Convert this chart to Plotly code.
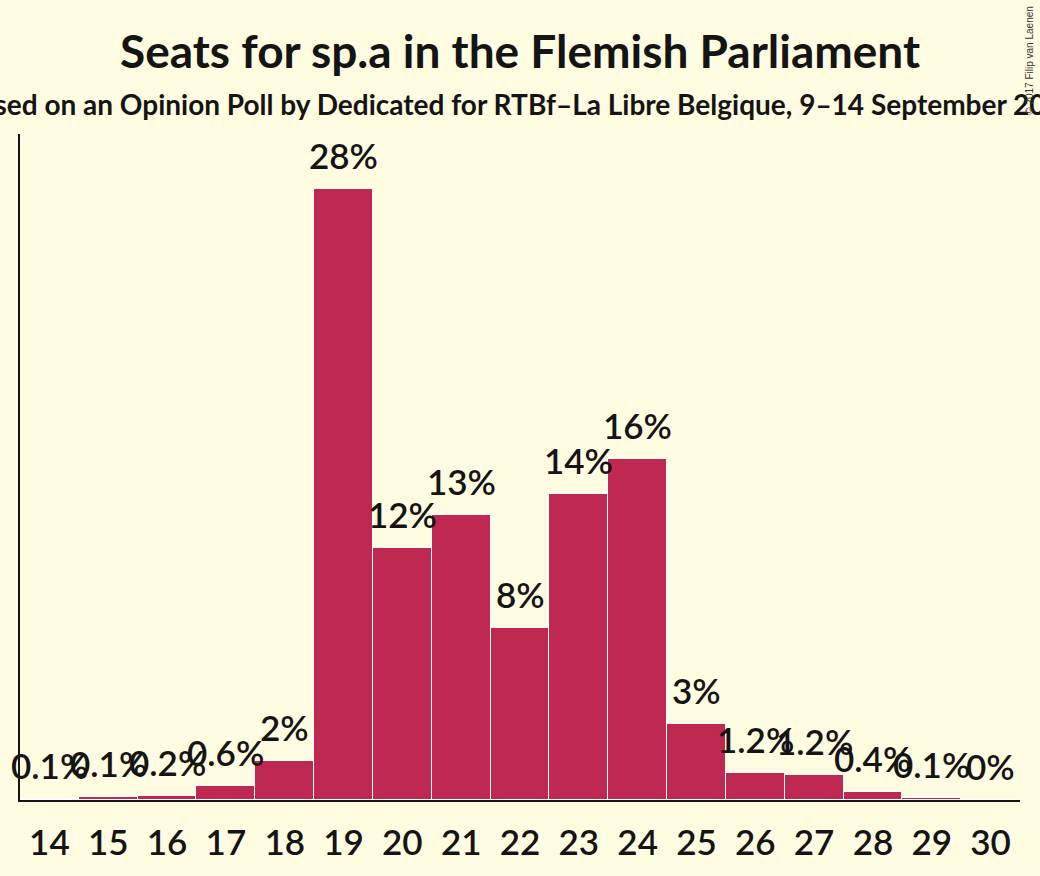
"""Seats for sp.a in the Flemish Parliament - seat probability bar chart"""

import plotly.graph_objects as go

# seat counts and the probability (%) of each
seats = [14, 15, 16, 17, 18, 19, 20, 21, 22, 23, 24, 25, 26, 27, 28, 29, 30]
probability = [0.05, 0.14, 0.2, 0.64, 1.8, 28.0, 11.55, 13.06, 7.88, 14.0,
               15.6, 3.5, 1.24, 1.15, 0.37, 0.1, 0.0]
labels = ["0.1%", "0.1%", "0.2%", "0.6%", "2%", "28%", "12%", "13%", "8%",
          "14%", "16%", "3%", "1.2%", "1.2%", "0.4%", "0.1%", "0%"]

title = "Seats for sp.a in the Flemish Parliament"
subtitle = ("Based on an Opinion Poll by Dedicated for RTBf–La Libre Belgique, "
            "9–14 September 2017")
copyright_text = "© 2017 Filip van Laenen"

bg = "#FFFCE1"
bar_color = "#BE2851"
ink = "#141414"

fig = go.Figure(
    go.Bar(
        x=seats,
        y=probability,
        marker_color=bar_color,
        marker_line=dict(color="white", width=1),
        hoverinfo="skip",
    )
)

# percentage labels above the bars
for s, p, lab in zip(seats, probability, labels):
    fig.add_annotation(
        x=s, y=p, text=lab, showarrow=False,
        yanchor="bottom", yshift=11,
        font=dict(family="Lato", size=35, color=ink, weight=600),
    )

fig.add_annotation(
    text=title, xref="paper", yref="paper", x=0.5, y=1.126,
    xanchor="center", yanchor="middle", showarrow=False,
    font=dict(family="Lato", size=46, color=ink, weight="bold"),
)
fig.add_annotation(
    text=subtitle, xref="paper", yref="paper", x=0.5, y=1.045,
    xanchor="center", yanchor="middle", showarrow=False,
    font=dict(family="Lato", size=28, color=ink, weight="bold"),
)
fig.add_annotation(
    text=copyright_text, xref="paper", yref="paper", x=1.01, y=1.11,
    xanchor="center", yanchor="middle", showarrow=False, textangle=-90,
    font=dict(family="Liberation Sans", size=10, color="#333333"),
)

fig.update_xaxes(
    tickmode="array", tickvals=seats, ticktext=[str(s) for s in seats],
    range=[13.5, 30.5], showline=True, linecolor=ink, linewidth=2,
    ticks="", showgrid=False, zeroline=False, ticklabelstandoff=11,
    tickfont=dict(family="Lato", size=35, color=ink, weight=600),
    automargin=False,
)
fig.update_yaxes(
    range=[0, 30.5], showline=True, linecolor=ink, linewidth=2,
    showticklabels=False, ticks="", showgrid=False, zeroline=False,
    automargin=False,
)
fig.update_layout(
    width=1040, height=876,
    margin=dict(l=20, r=20, t=134, b=76),
    paper_bgcolor=bg, plot_bgcolor=bg,
    bargap=0, showlegend=False,
    font=dict(family="Lato", color=ink),
)

# drop the page margin so the figure sits at the window's corner
fig.write_html(
    "out.html",
    config={"displayModeBar": False},
    post_script="document.body.style.margin='0';",
)
